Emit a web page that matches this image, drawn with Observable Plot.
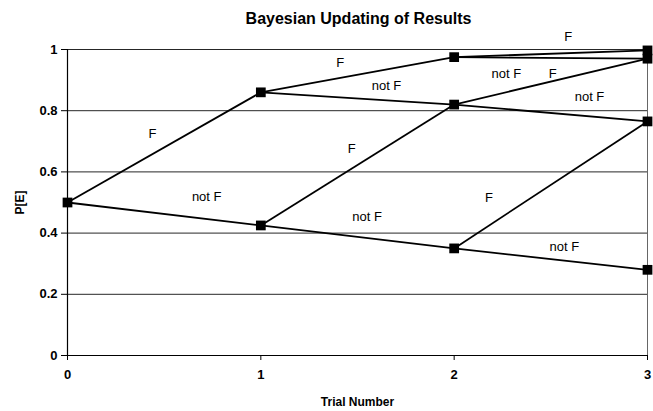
<!DOCTYPE html>
<html>
<head>
<meta charset="utf-8">
<script src="https://cdn.jsdelivr.net/npm/d3@7"></script>
<script src="https://cdn.jsdelivr.net/npm/@observablehq/plot@0.6"></script>
<style>
  html, body { margin: 0; padding: 0; background: #fff; }
  #chart { width: 653px; height: 411px; font-family: "Liberation Sans", Arial, sans-serif; }
  #title { height: 30px; line-height: 30px; padding-top: 4px; box-sizing: border-box;
           font-weight: bold; font-size: 16px; text-align: center; padding-left: 64px; color: #000; }
  svg { display: block; overflow: visible; }
</style>
</head>
<body>
<div id="chart">
  <div id="title">Bayesian Updating of Results</div>
</div>
<script>
// Nodes of the updating tree: trial number and posterior P[E]
const nodeTrial = [0, 1, 1, 2, 2, 2, 3, 3, 3, 3];
const nodeProb  = [0.5, 0.86, 0.425, 0.975, 0.82, 0.35, 0.997, 0.97, 0.765, 0.28];

// Branches between nodes (indices into the node arrays)
const branchFrom = [0, 0, 1, 1, 2, 2, 3, 3, 4, 4, 5, 5];
const branchTo   = [1, 2, 3, 4, 4, 5, 6, 7, 7, 8, 8, 9];

// Branch labels and where they sit in data coordinates
const labelText = ["F", "not F", "F", "not F", "F", "not F", "F", "not F", "F", "not F", "F", "not F"];
const labelX    = [0.44, 0.72, 1.41, 1.65, 1.47, 1.55, 2.18, 2.57, 2.59, 2.27, 2.51, 2.70];
const labelY    = [0.725, 0.52, 0.957, 0.88, 0.676, 0.454, 0.516, 0.356, 1.042, 0.92, 0.92, 0.846];

const xTicks = [0, 1, 2, 3];
const yTicks = [0, 0.2, 0.4, 0.6, 0.8, 1];
const xFormat = d => String(d);
const yFormat = d => (d === 0 || d === 1 ? String(d) : d.toFixed(1));

const nodes = nodeTrial.map((t, i) => ({trial: t, p: nodeProb[i]}));
const branches = branchFrom.map((f, i) => ({
  x1: nodeTrial[f], y1: nodeProb[f], x2: nodeTrial[branchTo[i]], y2: nodeProb[branchTo[i]]
}));
const labels = labelText.map((t, i) => ({text: t, x: labelX[i], y: labelY[i]}));

const chart = Plot.plot({
  width: 653,
  height: 381,
  marginTop: 19,
  marginBottom: 56,
  marginLeft: 67,
  marginRight: 6,
  style: {fontFamily: "Liberation Sans, Arial, sans-serif", color: "#000", background: "#fff"},
  x: {domain: [0, 3]},
  y: {domain: [0, 1]},
  marks: [
    Plot.ruleY(yTicks.filter(d => d > 0), {stroke: "#000", strokeWidth: 1, strokeOpacity: 0.85}),
    Plot.ruleX([3], {stroke: "#000", strokeWidth: 1, strokeOpacity: 0.6}),
    Plot.axisX({ticks: xTicks, tickFormat: xFormat, tickSize: 5, tickPadding: 9, fontSize: 13, fontWeight: "bold",
                label: "Trial Number", labelAnchor: "center", labelArrow: "none", labelOffset: 50}),
    Plot.axisY({ticks: yTicks, tickFormat: yFormat, tickSize: 6, tickPadding: 4, fontSize: 13, fontWeight: "bold",
                label: "P[E]", labelAnchor: "center", labelArrow: "none", labelOffset: 52}),
    Plot.ruleX([0], {stroke: "#000", strokeWidth: 1.2}),
    Plot.ruleY([0], {stroke: "#000", strokeWidth: 1.2}),
    Plot.link(branches, {x1: "x1", y1: "y1", x2: "x2", y2: "y2", stroke: "#000", strokeWidth: 1.8}),
    Plot.dot(nodes, {x: "trial", y: "p", symbol: "square", r: 5.5, fill: "#000", stroke: "none", clip: false}),
    Plot.text(labels, {x: "x", y: "y", text: "text", fontSize: 13, fill: "#000"})
  ]
});

// bold axis titles to match the tick labels
chart.querySelectorAll("[aria-label='x-axis label'] text, [aria-label='y-axis label'] text")
  .forEach(t => { t.setAttribute("font-weight", "bold"); t.setAttribute("font-size", "12"); });

document.getElementById("chart").appendChild(chart);
</script>
</body>
</html>
